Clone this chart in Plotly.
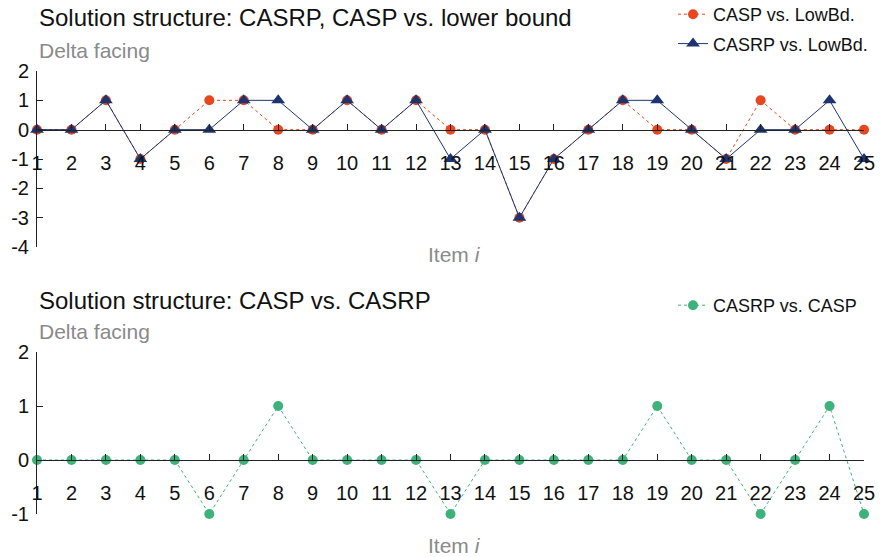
import plotly.graph_objects as go

# ---- data ----
items = list(range(1, 26))
casp_vs_lowbd = [0, 0, 1, -1, 0, 1, 1, 0, 0, 1, 0, 1, 0, 0, -3, -1, 0, 1, 0, 0, -1, 1, 0, 0, 0]
casrp_vs_lowbd = [0, 0, 1, -1, 0, 0, 1, 1, 0, 1, 0, 1, -1, 0, -3, -1, 0, 1, 1, 0, -1, 0, 0, 1, -1]
casrp_vs_casp = [0, 0, 0, 0, 0, -1, 0, 1, 0, 0, 0, 0, -1, 0, 0, 0, 0, 0, 1, 0, 0, -1, 0, 1, -1]
top_yticks = [-4, -3, -2, -1, 0, 1, 2]
bottom_yticks = [-1, 0, 1, 2]

W, H = 887, 557
FONT = "Liberation Sans, Arial, Helvetica, sans-serif"
ORANGE = "#E8461E"
NAVY = "#1D3470"
GREEN = "#3DB27A"
GREY = "#8a8a8a"


def py(p):
    return 1 - p / H


def px(p):
    return p / W


x_dom = [px(37), px(864)]
top_dom = [py(247), py(71)]
bot_dom = [py(514), py(352)]
top_rng = [min(top_yticks), max(top_yticks)]
bot_rng = [min(bottom_yticks), max(bottom_yticks)]


def zero_pos(dom, rng):
    return dom[0] + (0 - rng[0]) / (rng[1] - rng[0]) * (dom[1] - dom[0])


fig = go.Figure()

fig.add_trace(go.Scatter(
    x=items, y=casp_vs_lowbd, name="CASP vs. LowBd.", mode="lines+markers",
    line=dict(color=ORANGE, width=1, dash="dot"),
    marker=dict(symbol="circle", size=10, color=ORANGE),
    xaxis="x", yaxis="y", cliponaxis=False, legend="legend", legendgroup="a"))
fig.add_trace(go.Scatter(
    x=items, y=casrp_vs_lowbd, name="CASRP vs. LowBd.", mode="lines+markers",
    line=dict(color=NAVY, width=1),
    marker=dict(symbol="triangle-up", size=12, color=NAVY),
    xaxis="x", yaxis="y", cliponaxis=False, legend="legend", legendgroup="b"))
fig.add_trace(go.Scatter(
    x=items, y=casrp_vs_casp, name="CASRP vs. CASP", mode="lines+markers",
    line=dict(color=GREEN, width=1, dash="dot"),
    marker=dict(symbol="circle", size=10, color=GREEN),
    xaxis="x2", yaxis="y2", cliponaxis=False, legend="legend2"))

xcommon = dict(range=[1, 25], tickmode="array", tickvals=items, ticktext=[str(i) for i in items],
               ticks="inside", ticklen=6, tickcolor="#222", showline=True, linecolor="#222",
               linewidth=1, showgrid=False, zeroline=False, domain=x_dom, anchor="free",
               automargin=False,
               tickfont=dict(size=20, color="#111", family=FONT), ticklabelstandoff=15)
ycommon = dict(ticks="inside", ticklen=6, tickcolor="#222", showline=True, linecolor="#222",
               linewidth=1, showgrid=False, zeroline=False, automargin=False, tickmode="array",
               tickfont=dict(size=20, color="#111", family=FONT), ticklabelstandoff=3)

fig.update_layout(
    width=W, height=H,
    margin=dict(l=0, r=0, t=0, b=0, autoexpand=False),
    paper_bgcolor="white", plot_bgcolor="white",
    font=dict(family=FONT, color="#111"),
    xaxis=dict(**xcommon, position=zero_pos(top_dom, top_rng)),
    yaxis=dict(**ycommon, domain=top_dom, range=top_rng, tickvals=top_yticks,
               ticktext=[str(v) for v in top_yticks], anchor="x"),
    xaxis2=dict(**xcommon, position=zero_pos(bot_dom, bot_rng)),
    yaxis2=dict(**ycommon, domain=bot_dom, range=bot_rng, tickvals=bottom_yticks,
                ticktext=[str(v) for v in bottom_yticks], anchor="x2"),
    legend=dict(x=px(673), y=py(-4), xanchor="left", yanchor="top", font=dict(size=18, family=FONT),
                bgcolor="rgba(0,0,0,0)", tracegroupgap=3, itemwidth=30),
    legend2=dict(x=px(673), y=py(287), xanchor="left", yanchor="top", font=dict(size=18, family=FONT),
                 bgcolor="rgba(0,0,0,0)", itemwidth=30),
    showlegend=True,
)

annots = [
    dict(text="Solution structure: CASRP, CASP vs. lower bound", x=px(37), y=py(18), size=24, color="#111"),
    dict(text="Delta facing", x=px(37), y=py(50), size=21, color=GREY),
    dict(text="Solution structure: CASP vs. CASRP", x=px(37), y=py(300), size=24, color="#111"),
    dict(text="Delta facing", x=px(37), y=py(332), size=21, color=GREY),
]
for a in annots:
    fig.add_annotation(text=a["text"], x=a["x"], y=a["y"], xref="paper", yref="paper",
                       xanchor="left", yanchor="middle", showarrow=False,
                       font=dict(size=a["size"], color=a["color"], family=FONT))
for yy in (254, 545):
    fig.add_annotation(text="Item <i>i</i>", x=px(455), y=py(yy), xref="paper", yref="paper",
                       xanchor="center", yanchor="middle", showarrow=False,
                       font=dict(size=21, color=GREY, family=FONT))

fig.write_html("out.html", config={"displayModeBar": False},
               post_script="document.body.style.margin='0';")
